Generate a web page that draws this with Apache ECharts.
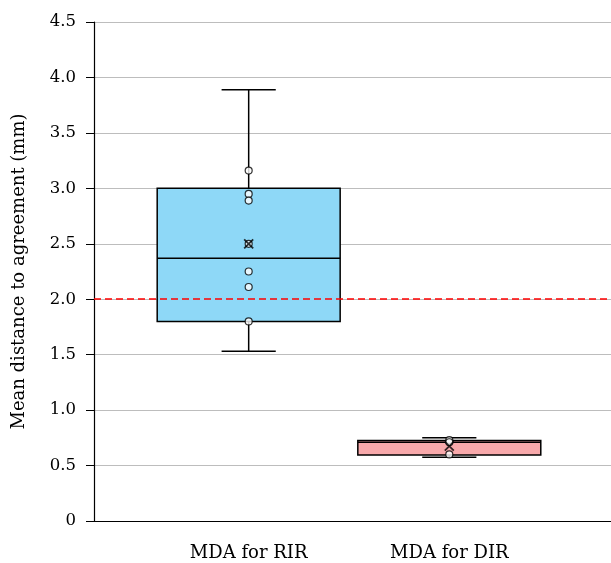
<!DOCTYPE html>
<html>
<head>
<meta charset="utf-8">
<script src="https://cdn.jsdelivr.net/npm/echarts@6/dist/echarts.min.js"></script>
<style>
  html, body { margin: 0; padding: 0; background: #ffffff; }
  #chart { width: 611px; height: 563px; }
</style>
</head>
<body>
<div id="chart"></div>
<script>
// ---- data ----
const categories = ['MDA for RIR', 'MDA for DIR'];
const whiskerMin = [1.53, 0.575];
const q1Values = [1.80, 0.595];
const medianValues = [2.37, 0.71];
const q3Values = [3.00, 0.725];
const whiskerMax = [3.89, 0.75];
const meanValues = [2.50, 0.675];
const rirPoints = [3.16, 2.95, 2.89, 2.50, 2.25, 2.11, 1.80];
const dirPoints = [0.73, 0.71, 0.60];
const thresholdValue = 2.0;
const yTicks = [0, 0.5, 1.0, 1.5, 2.0, 2.5, 3.0, 3.5, 4.0, 4.5];
const boxColors = ['#8ED8F7', '#F8A9AB'];

const FONT = 'DejaVu Serif';
const BOX_W = 0.912;
const CAP_W = 0.27;

const boxData = categories.map((c, i) => [i + 1, whiskerMin[i], q1Values[i], medianValues[i], q3Values[i], whiskerMax[i]]);
const pointData = [];
rirPoints.forEach(v => pointData.push([1, v]));
dirPoints.forEach(v => pointData.push([2, v]));
const meanData = meanValues.map((v, i) => [i + 1, v]);

function renderBox(params, api) {
  const x = api.value(0);
  const lo = api.coord([x, api.value(1)]);
  const q1 = api.coord([x, api.value(2)]);
  const med = api.coord([x, api.value(3)]);
  const q3 = api.coord([x, api.value(4)]);
  const hi = api.coord([x, api.value(5)]);
  const bw = api.size([BOX_W, 0])[0];
  const cw = api.size([CAP_W, 0])[0];
  const cx = lo[0];
  const stroke = { stroke: '#000', lineWidth: 1.5 };
  return {
    type: 'group',
    children: [
      { type: 'line', shape: { x1: cx, y1: lo[1], x2: cx, y2: q1[1] }, style: stroke },
      { type: 'line', shape: { x1: cx, y1: q3[1], x2: cx, y2: hi[1] }, style: stroke },
      { type: 'line', shape: { x1: cx - cw / 2, y1: lo[1], x2: cx + cw / 2, y2: lo[1] }, style: stroke },
      { type: 'line', shape: { x1: cx - cw / 2, y1: hi[1], x2: cx + cw / 2, y2: hi[1] }, style: stroke },
      { type: 'rect', shape: { x: cx - bw / 2, y: q3[1], width: bw, height: q1[1] - q3[1] },
        style: { fill: boxColors[params.dataIndex], stroke: '#000', lineWidth: 1.5 } },
      { type: 'line', shape: { x1: cx - bw / 2, y1: med[1], x2: cx + bw / 2, y2: med[1] }, style: stroke }
    ]
  };
}

const chart = echarts.init(document.getElementById('chart'));
chart.setOption({
  animation: false,
  backgroundColor: '#ffffff',
  grid: { left: 94, right: 0, top: 22, bottom: 42 },
  xAxis: {
    type: 'value',
    min: 0.229,
    max: 2.806,
    axisLine: { show: true, lineStyle: { color: '#000', width: 1.2 } },
    axisTick: { show: false },
    splitLine: { show: false },
    axisLabel: {
      customValues: [1, 2],
      formatter: v => categories[Math.round(v) - 1] || '',
      fontFamily: FONT, fontSize: 18, color: '#000', margin: 23
    }
  },
  yAxis: {
    type: 'value',
    min: 0, max: 4.5, interval: 0.5,
    name: 'Mean distance to agreement (mm)',
    nameLocation: 'middle',
    nameGap: 66,
    nameTextStyle: { fontFamily: FONT, fontSize: 18, color: '#000' },
    axisLine: { show: true, lineStyle: { color: '#000', width: 1.2 } },
    axisTick: { show: true, inside: false, length: 8, lineStyle: { color: '#000', width: 1 } },
    splitLine: { show: true, lineStyle: { color: '#bdbdbd', width: 1.2 } },
    axisLabel: {
      customValues: yTicks,
      formatter: v => (v === 0 ? '0' : v.toFixed(1)),
      fontFamily: FONT, fontSize: 16.5, color: '#000', margin: 18
    }
  },
  series: [
    {
      type: 'custom',
      renderItem: renderBox,
      data: boxData,
      encode: { x: 0, y: [1, 2, 3, 4, 5] },
      z: 2,
      markLine: {
        silent: true,
        symbol: ['none', 'none'],
        label: { show: false },
        lineStyle: { color: '#ff0000', type: [7, 4], width: 1.5 },
        data: [{ yAxis: thresholdValue }]
      }
    },
    {
      type: 'scatter',
      data: pointData,
      symbol: 'circle',
      symbolSize: 7,
      itemStyle: { color: '#ffffff', borderColor: '#000', borderWidth: 1.2 },
      z: 3
    },
    {
      type: 'scatter',
      data: meanData,
      symbol: 'path://M0,0L10,10M10,0L0,10',
      symbolSize: 9,
      itemStyle: { color: 'none', borderColor: '#000', borderWidth: 1.8 },
      z: 4
    }
  ]
});
</script>
</body>
</html>
